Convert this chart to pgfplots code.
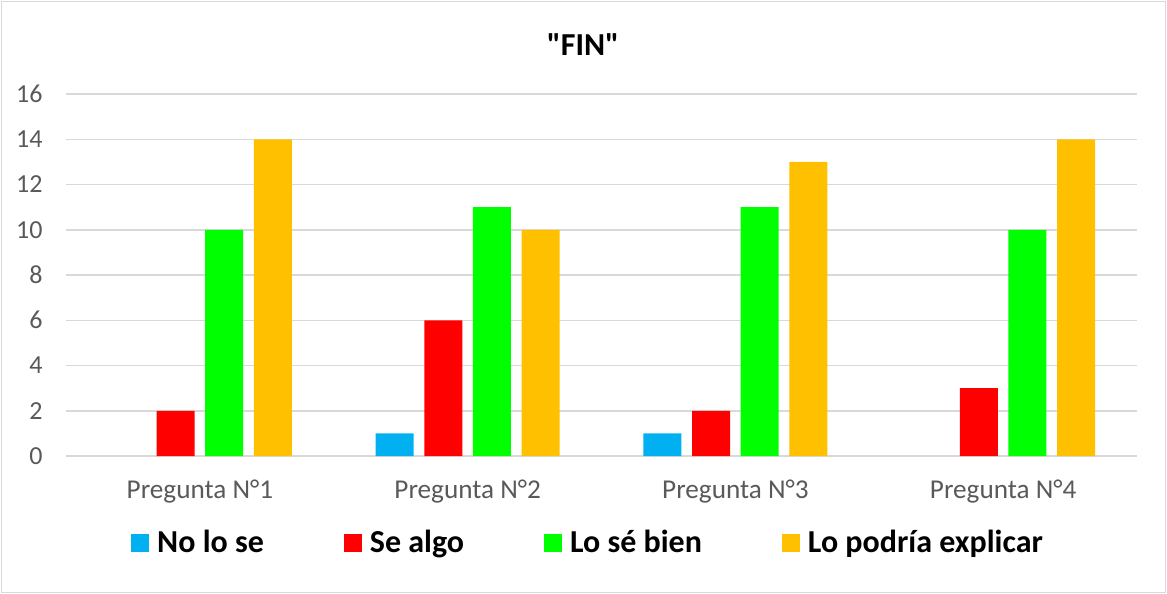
\documentclass[border=0pt]{standalone}
\usepackage{pgfplots}
\pgfplotsset{compat=1.18}
\usepackage{fontspec}
\setmainfont{Carlito}
\newfontfamily\titlefont{Carlito}[Ligatures=ResetAll]
\definecolor{cblue}{HTML}{00B0F0}
\definecolor{cred}{HTML}{FF0000}
\definecolor{cgreen}{HTML}{00FF00}
\definecolor{corange}{HTML}{FFC000}
\definecolor{tgray}{HTML}{595959}
\definecolor{ggray}{HTML}{D9D9D9}
\begin{document}
\begin{tikzpicture}
\useasboundingbox (-33pt,-69pt) rectangle (550.5pt,228pt);
\draw[ggray, line width=0.75pt] (-32.25pt,-68.25pt) rectangle (549.75pt,227.25pt);
\begin{axis}[
  at={(0,0)}, anchor=south west,
  scale only axis, width=535.5pt, height=181pt,
  xmin=-0.5, xmax=3.5, ymin=0, ymax=16,
  ytick={0,2,...,16},
  xtick={0,1,2,3},
  xticklabels={Pregunta N°1,Pregunta N°2,Pregunta N°3,Pregunta N°4},
  ybar=5.35pt, bar width=19pt,
  axis line style={draw=none},
  major tick length=0pt,
  ymajorgrids, grid style={ggray, line width=0.75pt},
  tick label style={text=tgray},
  yticklabel style={anchor=east, inner sep=0pt, xshift=-11.5pt, font=\fontsize{13pt}{15pt}\selectfont},
  xticklabel style={anchor=north, inner sep=0pt, yshift=-12pt, font=\fontsize{13.6pt}{16pt}\selectfont},
  /pgf/number format/assume math mode=true,
  legend style={draw=none, inner sep=0pt, at={(0.4865,-0.2403)}, anchor=center,
    legend columns=4, font=\fontsize{16pt}{19pt}\selectfont\bfseries,
    nodes={inner sep=0pt},
    /tikz/every odd column/.append style={column sep=4pt},
    /tikz/every even column/.append style={column sep=40pt}},
  legend image code/.code={\fill[#1] (0pt,-4.5pt) rectangle (9pt,4.5pt);},
]
\addplot[fill=cblue, draw=none] coordinates {(1,1) (2,1)};
\addplot[fill=cred, draw=none] coordinates {(0,2) (1,6) (2,2) (3,3)};
\addplot[fill=cgreen, draw=none] coordinates {(0,10) (1,11) (2,11) (3,10)};
\addplot[fill=corange, draw=none] coordinates {(0,14) (1,10) (2,13) (3,14)};
\legend{No lo se, Se algo, Lo sé bien, Lo podría explicar}
\end{axis}
\node[font=\titlefont\fontsize{16pt}{19pt}\selectfont\bfseries, anchor=center] at (258.5pt,205.5pt) {"FIN"};
\end{tikzpicture}
\end{document}
